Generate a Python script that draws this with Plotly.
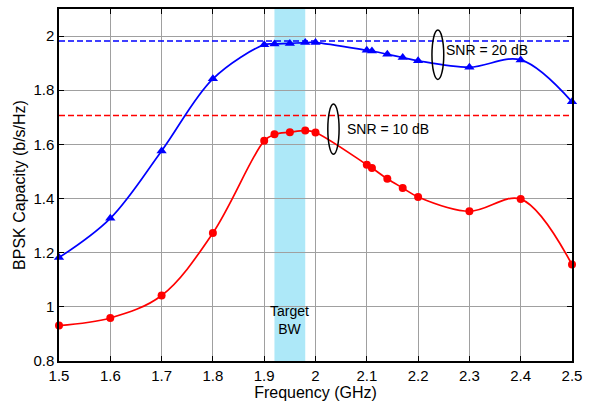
import plotly.graph_objects as go

# ---- data ----
freq_20 = [1.5, 1.6, 1.7, 1.8, 1.9, 1.92, 1.95, 1.98, 2.0, 2.1, 2.11, 2.14, 2.17, 2.2, 2.3, 2.4, 2.5]
cap_20 = [1.182, 1.327, 1.576, 1.842, 1.968, 1.971, 1.973, 1.976, 1.976, 1.948, 1.945, 1.933, 1.921, 1.909, 1.885, 1.912, 1.757]
freq_10 = [1.5, 1.6, 1.7, 1.8, 1.9, 1.92, 1.95, 1.98, 2.0, 2.1, 2.11, 2.14, 2.17, 2.2, 2.3, 2.4, 2.5]
cap_10 = [0.931, 0.959, 1.042, 1.273, 1.613, 1.637, 1.645, 1.651, 1.644, 1.525, 1.513, 1.473, 1.439, 1.406, 1.353, 1.398, 1.156]
limit_20 = 1.982
limit_10 = 1.707
target_bw = [1.92, 1.98]
x_ticks = [1.5, 1.6, 1.7, 1.8, 1.9, 2.0, 2.1, 2.2, 2.3, 2.4, 2.5]
x_ticklabels = ["1.5", "1.6", "1.7", "1.8", "1.9", "2", "2.1", "2.2", "2.3", "2.4", "2.5"]
y_ticks = [0.8, 1.0, 1.2, 1.4, 1.6, 1.8, 2.0]
y_ticklabels = ["0.8", "1", "1.2", "1.4", "1.6", "1.8", "2"]

FONT = "Liberation Sans, Arial, Helvetica, sans-serif"
BLUE = "#0000ff"
RED = "#ff0000"

fig = go.Figure()

# dashed capacity limits
fig.add_trace(go.Scatter(x=[x_ticks[0], x_ticks[-1]], y=[limit_20, limit_20], mode="lines",
                         line=dict(color=BLUE, width=1.5, dash="6px,3px"), showlegend=False, hoverinfo="skip"))
fig.add_trace(go.Scatter(x=[x_ticks[0], x_ticks[-1]], y=[limit_10, limit_10], mode="lines",
                         line=dict(color=RED, width=1.5, dash="6px,3px"), showlegend=False, hoverinfo="skip"))

fig.add_trace(go.Scatter(x=freq_20, y=cap_20, mode="lines+markers",
                         line=dict(color=BLUE, width=1.7, shape="spline", smoothing=1.0),
                         marker=dict(symbol="triangle-up", size=9, color=BLUE),
                         showlegend=False, cliponaxis=False))
fig.add_trace(go.Scatter(x=freq_10, y=cap_10, mode="lines+markers",
                         line=dict(color=RED, width=1.7, shape="spline", smoothing=1.0),
                         marker=dict(symbol="circle", size=8, color=RED),
                         showlegend=False, cliponaxis=False))

# target band
fig.add_shape(type="rect", xref="x", yref="paper", x0=target_bw[0], x1=target_bw[1], y0=0, y1=1,
              fillcolor="#ade8f8", line=dict(width=0), layer="between")

# ellipses
fig.add_shape(type="circle", xref="x", yref="y", x0=2.227, x1=2.250, y0=1.840, y1=2.022,
              line=dict(color="black", width=1.5))
fig.add_shape(type="circle", xref="x", yref="y", x0=2.024, x1=2.046, y0=1.564, y1=1.749,
              line=dict(color="black", width=1.5))

fig.add_annotation(x=2.251, y=1.949, text="SNR = 20 dB", showarrow=False, xanchor="left",
                   font=dict(family=FONT, size=14, color="black"))
fig.add_annotation(x=2.057, y=1.655, text="SNR = 10 dB", showarrow=False, xanchor="left",
                   font=dict(family=FONT, size=14, color="black"))
fig.add_annotation(x=1.95, y=0.95, text="Target<br>BW", showarrow=False,
                   font=dict(family=FONT, size=14, color="black"))

axis_common = dict(showline=True, linecolor="black", linewidth=1.5, mirror="ticks",
                   ticks="inside", ticklen=5, tickcolor="black", tickwidth=1,
                   showgrid=True, gridcolor="#a0a0a0", gridwidth=1, zeroline=False,
                   tickfont=dict(family=FONT, size=15, color="black"))

fig.update_xaxes(range=[1.5, 2.5], tickvals=x_ticks, ticktext=x_ticklabels,
                 title=dict(text="Frequency (GHz)", font=dict(family=FONT, size=16, color="black"), standoff=0),
                 **axis_common)
fig.update_yaxes(range=[0.8, 2.1], tickvals=y_ticks, ticktext=y_ticklabels,
                 title=dict(text="BPSK Capacity (b/s/Hz)", font=dict(family=FONT, size=16, color="black"), standoff=4),
                 **axis_common)

fig.update_layout(width=597, height=402, margin=dict(l=59, r=25, t=7, b=37),
                  plot_bgcolor="white", paper_bgcolor="white",
                  font=dict(family=FONT, color="black"))

fig.write_html("out.html")
